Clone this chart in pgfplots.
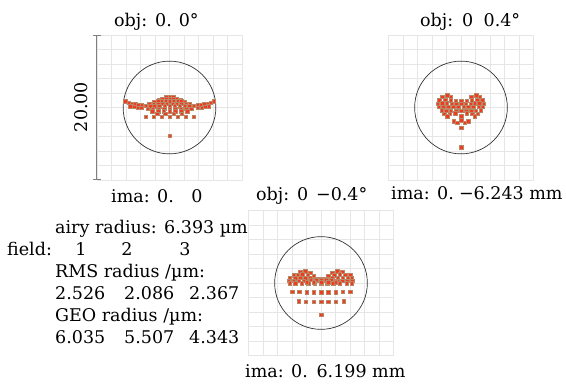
\documentclass[border=0pt]{standalone}
\usepackage{fontspec}
\setmainfont{DejaVu Serif}
\usepackage{pgfplots}
\pgfplotsset{compat=1.18}
\definecolor{gridgray}{RGB}{230,230,230}
\definecolor{spotred}{RGB}{240,58,34}
\definecolor{spotedge}{RGB}{185,135,100}
\definecolor{circ}{RGB}{50,50,50}
\pgfplotsset{
  spotax/.style={
    width=145bp, height=145bp, scale only axis, anchor=south west,
    xmin=-10, xmax=10, ymin=-10, ymax=10,
    xtick={-10,-8,...,10}, ytick={-10,-8,...,10},
    xticklabels={}, yticklabels={}, major tick length=0pt,
    grid=major, major grid style={gridgray, line width=0.6pt},
    axis line style={gridgray, line width=0.6pt},
    clip=false,
  },
  spots/.style={only marks, mark=square*, mark size=1.75bp,
    mark options={fill=spotred, draw=spotedge, line width=0.25pt}},
}
\newcommand{\tf}{\fontsize{17.5bp}{22bp}\selectfont}
\begin{document}
\begin{tikzpicture}
\path[use as bounding box] (0bp,0bp) rectangle (566bp,384bp);

% ---------- field 1 ----------
\begin{axis}[spotax, at={(97bp,204bp)}]
\draw[circ, line width=0.7pt] (axis cs:0,0) circle[radius=6.393];
\draw[gray, line width=1pt] (axis cs:-10.1,-10) -- (axis cs:-10.1,10);
\draw[gray, line width=1pt] (axis cs:-10.6,10) -- (axis cs:-9.5,10);
\draw[gray, line width=1pt] (axis cs:-10.6,-10) -- (axis cs:-9.5,-10);
\addplot[spots] coordinates {
(-6.1,0.85) (-5.65,0.7) (-5.2,0.55) (-4.75,0.45) (-4.3,0.35) (-3.85,0.3)
(-5.4,0.2) (-4.9,0.1) (-4.4,0.0) (-3.9,-0.05)
(6.1,0.85) (5.65,0.7) (5.2,0.55) (4.75,0.45) (4.3,0.35) (3.85,0.3)
(5.4,0.2) (4.9,0.1) (4.4,0.0) (3.9,-0.05)
(-0.5,1.4) (0,1.45) (0.5,1.4)
(-1.5,1.1) (-1.0,1.15) (-0.5,1.15) (0,1.2) (0.5,1.15) (1.0,1.15) (1.5,1.1)
(-2.1,0.8) (-1.6,0.85) (-1.1,0.85) (-0.55,0.85) (0,0.9) (0.55,0.85) (1.1,0.85) (1.6,0.85) (2.1,0.8)
(-2.8,0.5) (-2.2,0.5) (-1.6,0.55) (-1.0,0.55) (-0.4,0.55) (0.4,0.55) (1.0,0.55) (1.6,0.55) (2.2,0.5) (2.8,0.5)
(-3.3,0.25) (-2.7,0.2) (-2.1,0.2) (-1.4,0.2) (-0.7,0.2) (0,0.2) (0.7,0.2) (1.4,0.2) (2.1,0.2) (2.7,0.2) (3.3,0.25)
(-3.0,-0.15) (-2.3,-0.15) (-1.5,-0.15) (-0.75,-0.15) (0,-0.15) (0.75,-0.15) (1.5,-0.15) (2.3,-0.15) (3.0,-0.15)
(-2.4,-0.5) (-1.6,-0.5) (-0.8,-0.5) (0,-0.5) (0.8,-0.5) (1.6,-0.5) (2.4,-0.5)
(-1.7,-0.85) (-0.6,-0.85) (0.6,-0.85) (1.7,-0.85)
(-3.3,-1.25) (-2.2,-1.25) (-1.1,-1.25) (0,-1.25) (1.1,-1.25) (2.2,-1.25) (3.3,-1.25)
(0,-3.9)
};
\end{axis}

% ---------- field 2 ----------
\begin{axis}[spotax, at={(388.5bp,204bp)}]
\draw[circ, line width=0.7pt] (axis cs:0,0) circle[radius=6.393];
\addplot[spots] coordinates {
(-2.6,1.5) (-1.9,1.7) (-1.4,1.5) (1.4,1.5) (2.1,1.7) (2.6,1.5)
(-3.0,1.05) (-2.2,1.1) (-1.45,1.05) (-0.75,0.95) (0,0.9) (0.75,0.95) (1.45,1.05) (2.2,1.1) (2.9,1.05)
(-3.2,0.55) (-2.6,0.6) (-1.95,0.6) (-1.3,0.55) (-0.65,0.5) (0,0.5) (0.65,0.5) (1.3,0.55) (1.9,0.6) (2.5,0.6) (3.1,0.55)
(-3.1,0.1) (-2.45,0.1) (-1.8,0.1) (-1.1,0.1) (-0.4,0.1) (0.35,0.1) (1.0,0.1) (1.7,0.1) (2.4,0.1) (3.0,0.1)
(-2.7,-0.35) (-2.05,-0.4) (-1.4,-0.4) (-0.7,-0.4) (0,-0.4) (0.7,-0.4) (1.4,-0.4) (2.05,-0.4) (2.7,-0.35)
(-2.3,-0.85) (-1.55,-0.85) (-0.8,-0.8) (0.8,-0.8) (1.55,-0.85) (2.3,-0.85)
(-1.9,-1.2) (0,-1.2) (1.9,-1.2)
(-1.0,-1.9) (-0.55,-2.1) (0,-1.75) (0.5,-2.1) (1.0,-1.9)
(0,-2.75)
(0,-5.5)
};
\end{axis}

% ---------- field 3 ----------
\begin{axis}[spotax, at={(248.5bp,28.5bp)}]
\draw[circ, line width=0.7pt] (axis cs:0,0) circle[radius=6.393];
\addplot[spots] coordinates {
(-2.9,1.6) (-2.2,1.65) (-1.5,1.4) (1.5,1.4) (2.2,1.65) (2.9,1.55)
(-3.8,1.1) (-3.2,1.15) (-2.6,1.2) (-1.85,1.1) (-1.05,0.95) (1.0,0.95) (1.8,1.1) (2.6,1.2) (3.3,1.15) (4.0,1.1)
(-4.3,0.7) (-3.6,0.7) (-2.9,0.75) (-2.2,0.7) (-1.5,0.65) (-0.8,0.6) (-0.35,0.55) (0.3,0.55) (0.9,0.6) (1.55,0.65) (2.3,0.7) (2.95,0.75) (3.7,0.7) (4.25,0.7)
(-4.5,0.3) (-3.8,0.3) (-3.1,0.3) (-2.4,0.3) (-1.7,0.3) (-1.05,0.3) (-0.4,0.3) (0.2,0.3) (0.8,0.3) (1.5,0.3) (2.2,0.3) (2.9,0.3) (3.6,0.3) (4.3,0.3)
(-4.3,-0.05) (-3.6,-0.05) (-2.7,-0.05) (-1.8,-0.05) (-0.9,-0.05) (0,-0.05) (0.85,-0.05) (1.7,-0.05) (2.6,-0.05) (3.5,-0.05) (4.2,-0.05)
(-1.4,0.5) (-0.7,0.45) (0,0.4) (0.7,0.45) (1.4,0.5) (-1.0,0.1) (0,0.15) (1.0,0.1) (-2.0,0.1) (2.0,0.1)
(-4.0,-1.2) (-3.0,-1.2) (-2.0,-1.25) (-1.0,-1.25) (0,-1.25) (1.0,-1.25) (2.0,-1.25) (3.0,-1.2) (4.0,-1.2)
(-3.1,-2.5) (-2.1,-2.55) (-1.05,-2.55) (0,-2.55) (1.0,-2.55) (2.0,-2.55) (3.1,-2.5)
(0,-4.35)
};
\end{axis}

% ---------- texts ----------
\tikzset{t/.style={anchor=base west, inner sep=0pt, font=\tf}}
\node[t] at (114bp,357bp) {obj:\hspace{0.45em}0.\hspace{0.4em}0°};
\node[t] at (420bp,357bp) {obj:\hspace{0.5em}0\hspace{0.6em}0.4°};
\node[t] at (111bp,181bp) {ima: 0.\hspace{1em}0};
\node[t] at (391bp,184bp) {ima: 0.\hspace{0.3em}−6.243 mm};
\node[t] at (256bp,183bp) {obj:\hspace{0.45em}0\hspace{0.45em}−0.4°};
\node[t] at (245bp,7bp) {ima: 0.\hspace{0.5em}6.199 mm};
\node[anchor=base, inner sep=0pt, font=\tf, rotate=90] at (87bp,277bp) {20.00};

\node[t] at (55bp,150bp) {airy radius: 6.393 µm};
\node[t] at (7bp,128bp) {field:};
\node[anchor=base, inner sep=0pt, font=\tf] at (81bp,128bp) {1};
\node[anchor=base, inner sep=0pt, font=\tf] at (127bp,128bp) {2};
\node[anchor=base, inner sep=0pt, font=\tf] at (185bp,128bp) {3};
\node[t] at (55bp,106bp) {RMS radius /µm:};
\node[t] at (55bp,84bp) {2.526};
\node[t] at (124bp,84bp) {2.086};
\node[t] at (189bp,84bp) {2.367};
\node[t] at (55bp,62bp) {GEO radius /µm:};
\node[t] at (55bp,40bp) {6.035};
\node[t] at (124bp,40bp) {5.507};
\node[t] at (189bp,40bp) {4.343};
\end{tikzpicture}
\end{document}
